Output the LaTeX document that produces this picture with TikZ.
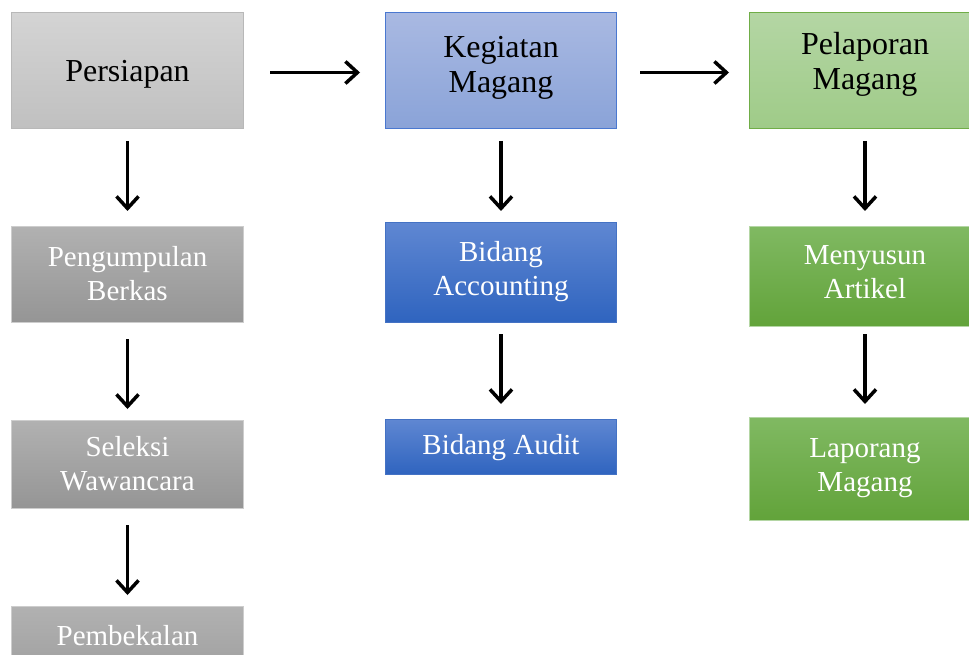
\documentclass[tikz,border=0pt]{standalone}
\usepackage{fontspec}
\setmainfont{Liberation Serif}
\usetikzlibrary{arrows.meta}
\definecolor{gAt}{HTML}{D4D4D4}\definecolor{gAb}{HTML}{C0C0C0}\definecolor{gAd}{HTML}{B8B8B8}
\definecolor{gBt}{HTML}{B1B1B1}\definecolor{gBb}{HTML}{959595}
\definecolor{bAt}{HTML}{A9B9E2}\definecolor{bAb}{HTML}{8AA3D8}\definecolor{bAd}{HTML}{4A78D0}
\definecolor{bBt}{HTML}{5F87D2}\definecolor{bBb}{HTML}{2F64BF}\definecolor{bBd}{HTML}{4472C4}
\definecolor{nAt}{HTML}{B4D6A4}\definecolor{nAb}{HTML}{9FCB88}\definecolor{nAd}{HTML}{70AD47}
\definecolor{nBt}{HTML}{80B962}\definecolor{nBb}{HTML}{62A33A}
\tikzset{
  x=1pt,y=-1pt,
  box/.style={draw, line width=1pt, align=center, inner sep=0pt, anchor=north west,
    font=\fontsize{29}{34}\selectfont, text=white},
  top/.style={font=\fontsize{32}{35}\selectfont, text=black},
  grayA/.style={box, top, draw=gAd, top color=gAt, bottom color=gAb},
  grayB/.style={box, draw=gAb!80!white, top color=gBt, bottom color=gBb},
  blueA/.style={box, top, draw=bAd, top color=bAt, bottom color=bAb},
  blueB/.style={box, draw=bBd, top color=bBt, bottom color=bBb},
  greenA/.style={box, top, draw=nAd, top color=nAt, bottom color=nAb},
  greenB/.style={box, draw=nAt, top color=nBt, bottom color=nBb},
  arr/.style={line width=3.5pt, -{Straight Barb[length=12pt,width=22pt,line width=3.5pt]}},
}
\begin{document}
\begin{tikzpicture}
\useasboundingbox (0,0) rectangle (969,655);
% gray column
\node[grayA, minimum width=232, minimum height=116, text depth=-4] (pers) at (11,12) {Persiapan};
\node[grayB, minimum width=232, minimum height=96, text depth=3] (peng) at (11,226) {Pengumpulan\\Berkas};
\node[grayB, minimum width=232, minimum height=88, text depth=2] (sel) at (11,420) {Seleksi\\Wawancara};
\node[grayB, minimum width=232, minimum height=110, text depth=52] (pemb) at (11,606) {Pembekalan};
% blue column
\node[blueA, minimum width=231, minimum height=116, text depth=12] (keg) at (385,12) {Kegiatan\\Magang};
\node[blueB, minimum width=231, minimum height=100, text depth=8] (acc) at (385,222) {Bidang\\Accounting};
\node[blueB, minimum width=231, minimum height=55, text depth=5] (aud) at (385,419) {Bidang Audit};
% green column
\node[greenA, minimum width=231, minimum height=116, text depth=20] (pel) at (749,12) {Pelaporan\\Magang};
\node[greenB, minimum width=231, minimum height=100, text depth=8] (meny) at (749,226) {Menyusun\\Artikel};
\node[greenB, minimum width=231, minimum height=103, text depth=8] (lap) at (749,417) {Laporang\\Magang};
% arrows
\draw[arr, shorten <=26pt, shorten >=25pt] ([yshift=-2]pers.east) -- ([yshift=-2]keg.west);
\draw[arr, shorten <=23pt, shorten >=20pt] ([yshift=-2]keg.east) -- ([yshift=-2]pel.west);
\draw[arr, shorten <=12pt, shorten >=15pt] (pers.south) -- (peng.north);
\draw[arr, shorten <=16pt, shorten >=11pt] (peng.south) -- (sel.north);
\draw[arr, shorten <=16pt, shorten >=11pt] (sel.south) -- (pemb.north);
\draw[arr, shorten <=12pt, shorten >=11pt] (keg.south) -- (acc.north);
\draw[arr, shorten <=11pt, shorten >=15pt] (acc.south) -- (aud.north);
\draw[arr, shorten <=12pt, shorten >=15pt] (pel.south) -- (meny.north);
\draw[arr, shorten <=7pt, shorten >=13pt] (meny.south) -- (lap.north);
\end{tikzpicture}
\end{document}
